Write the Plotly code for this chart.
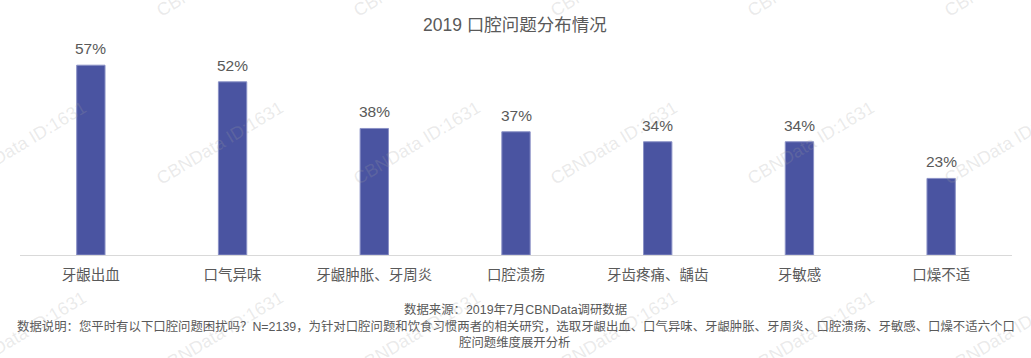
import plotly.graph_objects as go

categories = ["牙龈出血", "口气异味", "牙龈肿胀、牙周炎", "口腔溃疡", "牙齿疼痛、龋齿", "牙敏感", "口燥不适"]
values = [57, 52, 38, 37, 34, 34, 23]
title_text = "2019 口腔问题分布情况"
source_text = "数据来源：2019年7月CBNData调研数据"
note_lines = [
    "数据说明：您平时有以下口腔问题困扰吗？N=2139，为针对口腔问题和饮食习惯两者的相关研究，选取牙龈出血、口气异味、牙龈肿胀、牙周炎、口腔溃疡、牙敏感、口燥不适六个口",
    "腔问题维度展开分析",
]
watermark = "CBNData ID:1631"

W, H = 1031, 358
ML, MR, MT, MB = 20, 19, 40, 103
FONT = "Liberation Sans, Arial, Noto Sans CJK SC, sans-serif"
GRAY = "#595959"

fig = go.Figure()
fig.add_trace(go.Bar(
    x=categories, y=values, width=0.2,
    marker=dict(color="#4a54a1", line=dict(color="#8a91c6", width=1)),
    hoverinfo="skip",
))

annotations = []
for c, v in zip(categories, values):
    annotations.append(dict(x=c, y=v, xref="x", yref="y", text=f"{v}%", showarrow=False,
                            yanchor="bottom", yshift=6, font=dict(size=15.5, color=GRAY, family=FONT)))

def px2paper(px, py):
    return (px - ML) / (W - ML - MR), (H - MB - py) / (H - MT - MB)

# title
tx, ty = px2paper(515, 25)
annotations.append(dict(x=tx, y=ty, xref="paper", yref="paper", text=title_text, showarrow=False,
                        xanchor="center", yanchor="middle", font=dict(size=17.5, color=GRAY, family=FONT)))
# source and notes
sx, sy = px2paper(515, 309)
annotations.append(dict(x=sx, y=sy, xref="paper", yref="paper", text=source_text, showarrow=False,
                        xanchor="center", yanchor="middle", font=dict(size=12.4, color=GRAY, family=FONT)))
for i, (line, cx) in enumerate(zip(note_lines, [516, 515])):
    nx, ny = px2paper(cx, 326 + 16 * i)
    annotations.append(dict(x=nx, y=ny, xref="paper", yref="paper", text=line, showarrow=False,
                            xanchor="center", yanchor="middle", font=dict(size=12.4, color=GRAY, family=FONT)))

# watermarks
for cy in [-25, 143, 333]:
    for cx in [23, 220, 417, 614, 811, 1008]:
        wx, wy = px2paper(cx, cy)
        annotations.append(dict(x=wx, y=wy, xref="paper", yref="paper", text=watermark, showarrow=False,
                                textangle=-31, xanchor="center", yanchor="middle",
                                font=dict(size=18, color="rgba(160,160,160,0.22)", family=FONT)))

fig.update_layout(
    width=W, height=H,
    margin=dict(l=ML, r=MR, t=MT, b=MB),
    paper_bgcolor="white", plot_bgcolor="white",
    showlegend=False,
    annotations=annotations,
    xaxis=dict(showline=True, linecolor="#d9d9d9", linewidth=1, showgrid=False, zeroline=False,
               ticks="", tickfont=dict(size=14.5, color=GRAY, family=FONT), ticklabelstandoff=7,
               fixedrange=True),
    yaxis=dict(range=[0, 215 / 3.33], visible=False, showgrid=False, zeroline=False, fixedrange=True),
)

fig.write_html("out.html", config={"displayModeBar": False})
